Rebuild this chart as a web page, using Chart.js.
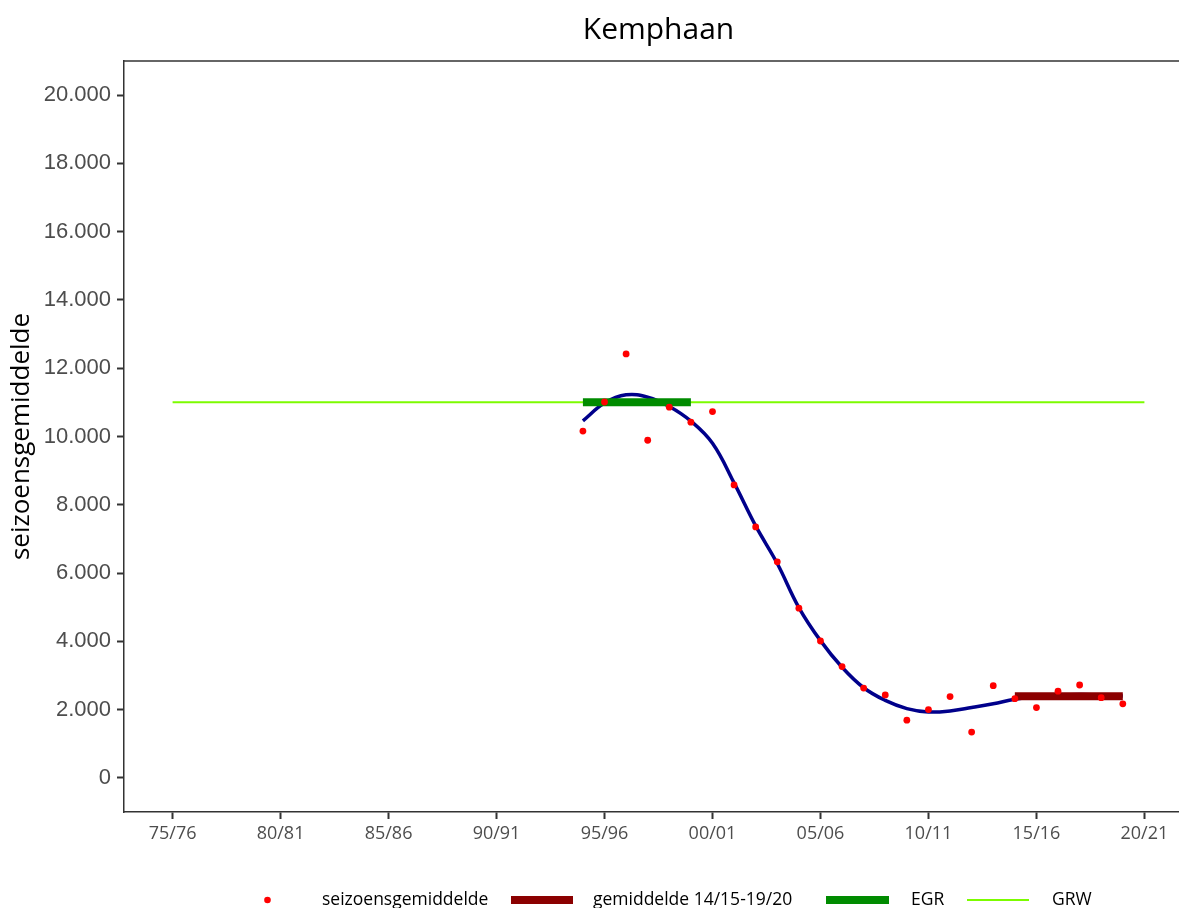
<!DOCTYPE html>
<html>
<head>
<meta charset="utf-8">
<script src="https://cdn.jsdelivr.net/npm/chart.js@4.4.1/dist/chart.umd.min.js"></script>
<style>
  html, body { margin: 0; padding: 0; background: #fff; overflow: hidden; }
  #wrap { width: 1200px; height: 908px; }
</style>
</head>
<body>
<div id="wrap"><canvas id="kemphaanChart" width="1200" height="908"></canvas></div>
<script>
// seizoenen met tellingen
const seasons = [
  "94/95", "95/96", "96/97", "97/98", "98/99", "99/00", "00/01", "01/02", "02/03",
  "03/04", "04/05", "05/06", "06/07", "07/08", "08/09", "09/10", "10/11", "11/12",
  "12/13", "13/14", "14/15", "15/16", "16/17", "17/18", "18/19", "19/20"
];
const seasonMeans = [
  10160, 11010, 12420, 9890, 10860, 10420, 10730, 8580, 7350,
  6330, 4970, 4010, 3260, 2630, 2430, 1690, 2000, 2380,
  1340, 2700, 2320, 2060, 2540, 2720, 2350, 2170
];
const trendValues = [
  10460, 10980, 11220, 11150, 10880, 10450, 9800, 8640, 7380,
  6280, 4990, 4020, 3240, 2640, 2270, 2030, 1930, 1960,
  2060, 2170, 2300, 2380, 2420, 2440, 2430, 2400
];
const recentSeasons = ["14/15", "19/20"];
const recentMean = 2390;
const egrSeasons = ["94/95", "99/00"];
const egrValue = 11000;
const grwSeasons = ["75/76", "20/21"];
const grwValue = 11000;

const xTickLabels = ["75/76", "80/81", "85/86", "90/91", "95/96", "00/01", "05/06", "10/11", "15/16", "20/21"];
const yTickValues = [0, 2000, 4000, 6000, 8000, 10000, 12000, 14000, 16000, 18000, 20000];

const colors = {
  dots: "#ff0000",
  recent: "#8b0000",
  egr: "#008b00",
  grw: "#7cfc00",
  trend: "#00008b",
  axis: "#333333",
  tickText: "#4d4d4d",
};

function seasonIdx(s) {
  let y = parseInt(s.slice(0, 2), 10);
  y = y < 50 ? 2000 + y : 1900 + y;
  return y - 1975;
}

function formatThousands(v) {
  return String(v).replace(/\B(?=(\d{3})+(?!\d))/g, ".");
}

const xTickValues = xTickLabels.map(seasonIdx);

const legendItems = [
  { label: "seizoensgemiddelde", kind: "dot", color: colors.dots, x0: 267.5, x1: 267.5, textX: 322 },
  { label: "gemiddelde 14/15-19/20", kind: "bar", color: colors.recent, x0: 511, x1: 573, textX: 593 },
  { label: "EGR", kind: "bar", color: colors.egr, x0: 826, x1: 889, textX: 911 },
  { label: "GRW", kind: "line", color: colors.grw, x0: 967, x1: 1029, textX: 1052 },
];

const frameAndLegend = {
  id: "frameAndLegend",
  afterDraw(chart) {
    const { ctx, chartArea } = chart;
    ctx.save();
    // bovenrand van het plotvlak
    ctx.strokeStyle = colors.axis;
    ctx.lineWidth = 1.5;
    ctx.beginPath();
    ctx.moveTo(chartArea.left - 0.75, chartArea.top);
    ctx.lineTo(chart.width, chartArea.top);
    ctx.stroke();

    // legenda onderaan
    const ly = 900;
    legendItems.forEach((item) => {
      if (item.kind === "dot") {
        ctx.fillStyle = item.color;
        ctx.beginPath();
        ctx.arc(item.x0, ly, 3.3, 0, Math.PI * 2);
        ctx.fill();
      } else {
        ctx.strokeStyle = item.color;
        ctx.lineWidth = item.kind === "bar" ? 8 : 2;
        ctx.lineCap = "butt";
        ctx.beginPath();
        ctx.moveTo(item.x0, ly);
        ctx.lineTo(item.x1, ly);
        ctx.stroke();
      }
      ctx.fillStyle = "#000";
      ctx.font = "17.5px 'Open Sans'";
      ctx.textBaseline = "middle";
      ctx.textAlign = "left";
      ctx.fillText(item.label, item.textX, ly);
    });
    ctx.restore();
  },
};

const ctx = document.getElementById("kemphaanChart").getContext("2d");

const kemphaanChart = new Chart(ctx, {
  type: "scatter",
  data: {
    datasets: [
      {
        label: "seizoensgemiddelde",
        data: seasons.map((s, i) => ({ x: seasonIdx(s), y: seasonMeans[i] })),
        backgroundColor: colors.dots,
        borderWidth: 0,
        pointRadius: 3.4,
        showLine: false,
        order: 0,
      },
      {
        label: "gemiddelde 14/15-19/20",
        type: "line",
        data: recentSeasons.map((s) => ({ x: seasonIdx(s), y: recentMean })),
        borderColor: colors.recent,
        borderWidth: 8,
        borderCapStyle: "butt",
        pointRadius: 0,
        order: 1,
      },
      {
        label: "EGR",
        type: "line",
        data: egrSeasons.map((s) => ({ x: seasonIdx(s), y: egrValue })),
        borderColor: colors.egr,
        borderWidth: 8,
        borderCapStyle: "butt",
        pointRadius: 0,
        order: 1,
      },
      {
        label: "trend",
        type: "line",
        data: seasons.map((s, i) => ({ x: seasonIdx(s), y: trendValues[i] })),
        borderColor: colors.trend,
        borderWidth: 3.5,
        tension: 0.4,
        pointRadius: 0,
        order: 2,
      },
      {
        label: "GRW",
        type: "line",
        data: grwSeasons.map((s) => ({ x: seasonIdx(s), y: grwValue })),
        borderColor: colors.grw,
        borderWidth: 2,
        pointRadius: 0,
        order: 3,
      },
    ],
  },
  options: {
    responsive: false,
    animation: false,
    devicePixelRatio: 1,
    layout: {
      padding: { left: 0, right: 7, top: 0, bottom: 0 },
    },
    scales: {
      x: {
        type: "linear",
        min: -2.25,
        max: 47.25,
        afterFit: (scale) => {
          scale.height = 96;
        },
        afterBuildTicks: (scale) => {
          scale.ticks = xTickValues.map((v) => ({ value: v }));
        },
        ticks: {
          autoSkip: false,
          maxRotation: 0,
          padding: 4,
          color: colors.tickText,
          font: { family: "'Open Sans'", size: 18 },
          callback: (v) => xTickLabels[xTickValues.indexOf(v)] || "",
        },
        grid: {
          drawOnChartArea: false,
          drawTicks: true,
          tickLength: 7,
          tickWidth: 2,
          tickColor: colors.axis,
        },
        border: { display: true, color: colors.axis, width: 1.5 },
      },
      y: {
        type: "linear",
        min: -1000,
        max: 21000,
        afterFit: (scale) => {
          scale.width = 124;
        },
        afterBuildTicks: (scale) => {
          scale.ticks = yTickValues.map((v) => ({ value: v }));
        },
        ticks: {
          padding: 6,
          color: colors.tickText,
          font: { family: "'Liberation Sans', Arial", size: 22 },
          callback: (v) => formatThousands(v),
        },
        grid: {
          drawOnChartArea: false,
          drawTicks: true,
          tickLength: 7,
          tickWidth: 2,
          tickColor: colors.axis,
        },
        border: { display: true, color: colors.axis, width: 1.5 },
        title: {
          display: true,
          text: "seizoensgemiddelde",
          color: "#000",
          font: { family: "'Open Sans'", size: 26 },
          padding: { top: 6, bottom: 0 },
        },
      },
    },
    plugins: {
      legend: { display: false },
      tooltip: { enabled: false },
      title: {
        display: true,
        text: "Kemphaan",
        fullSize: false,
        color: "#000",
        font: { family: "'Open Sans'", size: 30, weight: "normal" },
        padding: { top: 12, bottom: 13 },
      },
    },
  },
  plugins: [frameAndLegend],
});
</script>
</body>
</html>
